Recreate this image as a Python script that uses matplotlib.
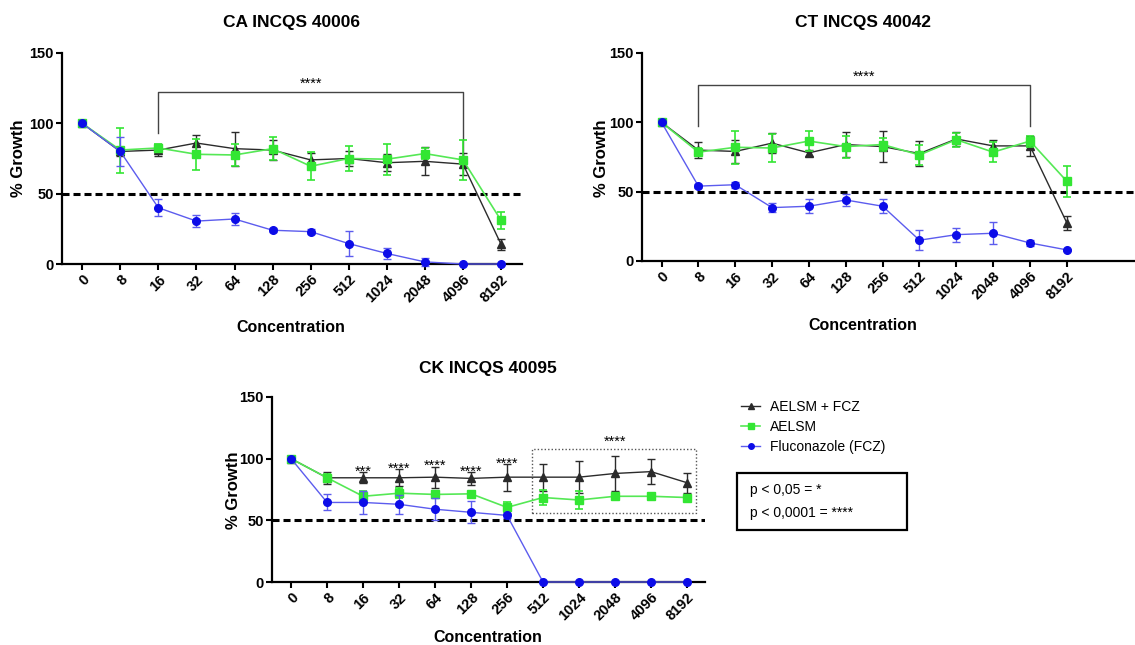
import matplotlib

matplotlib.use("Agg")
import matplotlib.pyplot as plt
from matplotlib.lines import Line2D
from matplotlib.patches import Rectangle

plt.rcParams["font.family"] = ["Liberation Sans", "DejaVu Sans"]

W, H = 1135, 645

conc = ["0", "8", "16", "32", "64", "128", "256", "512", "1024", "2048", "4096", "8192"]

# CA INCQS 40006
ca_combo = [100, 80, 81, 86, 82, 81, 74, 75, 72, 73, 71, 14]
ca_combo_err = [0, 3, 4, 5.5, 12, 7, 5, 5, 6, 10, 8, 4]
ca_aelsm = [100, 81, 82.5, 78, 77.5, 82, 69.5, 75, 74.5, 78.5, 74, 31]
ca_aelsm_err = [0, 16, 3, 11, 8, 8, 10, 9, 11, 4, 14, 6]
ca_fcz = [100, 80, 40, 30.5, 32, 24, 23, 14.5, 7.5, 1.5, 0, 0]
ca_fcz_err = [0, 10, 6, 4, 4, 1.5, 2, 9, 4, 3, 0, 0]

# CT INCQS 40042
ct_combo = [100, 80, 79, 85, 78, 84, 82.5, 77.5, 88, 83, 83, 27.5]
ct_combo_err = [0, 6, 8, 7, 2, 9, 11, 9, 5, 4.5, 7, 5]
ct_aelsm = [100, 78.5, 82, 81.5, 86.5, 82.5, 84, 76.5, 87.5, 78.5, 86.5, 57.5]
ct_aelsm_err = [0, 3, 12, 10, 7, 8, 5, 7, 5, 7, 4, 11]
ct_fcz = [100, 54, 55, 38.5, 39.5, 44, 39.5, 15, 19, 20, 13, 8]
ct_fcz_err = [0, 1.5, 2, 3.5, 5, 4, 5, 7, 5, 8, 2, 1]

# CK INCQS 40095
ck_combo = [100, 84.5, 84.5, 84.5, 85, 84, 85, 85, 85, 88, 89.5, 80.5]
ck_combo_err = [0, 5, 4.5, 7, 8.5, 5, 11, 11, 13, 14, 10, 8]
ck_aelsm = [100, 84.5, 69.5, 72, 71, 71.5, 60.5, 68.5, 66.5, 69.5, 69.5, 68.5]
ck_aelsm_err = [0, 3, 4, 4, 3, 1, 4, 6, 7, 1, 1, 1]
ck_fcz = [100, 64.5, 64.5, 63, 59, 56.5, 54, 0, 0, 0, 0, 0]
ck_fcz_err = [0, 6.5, 9, 7.5, 9, 9, 2, 0, 0, 0, 0, 0]

# significance marks
ca_bracket = (2, 10, 122, 93, 74)   # x from, x to, top, left leg end, right leg end
ct_bracket = (1, 10, 127, 97.5, 97)
ck_star_x = [2, 3, 4, 5, 6]
ck_star_y = [92.7, 95.4, 97.8, 92.7, 99.2]
ck_star_txt = ["***", "****", "****", "****", "****"]
ck_box = (6.7, 11.25, 56, 107.8)
ck_box_star = (9, 116.8)

BLACK = "#2b2b2b"
GREEN = "#33e633"
GREEN_LINE = "#55e855"
BLUE = "#0c0ce8"
BLUE_LINE = "#5c5cee"


def px_rect(left, top, right, bottom):
    return [left / W, 1 - bottom / H, (right - left) / W, (bottom - top) / H]


def fx(x):
    return x / W


def fy(y):
    return 1 - y / H


def draw_panel(ax, combo, combo_err, aelsm, aelsm_err, fcz, fcz_err, xmax):
    x = range(len(conc))
    ax.errorbar(x, combo, yerr=combo_err, color=BLACK, lw=1, marker="^", ms=5.5,
                capsize=3, elinewidth=1, capthick=1, clip_on=False, zorder=3)
    ax.errorbar(x, aelsm, yerr=aelsm_err, color=GREEN_LINE, mfc=GREEN, mec=GREEN,
                lw=1.2, marker="s", ms=5.5, capsize=3, elinewidth=1.2, capthick=1.2,
                ecolor=GREEN, clip_on=False, zorder=4)
    ax.errorbar(x, fcz, yerr=fcz_err, color=BLUE_LINE, mfc=BLUE, mec=BLUE,
                lw=1, marker="o", ms=5.5, capsize=3, elinewidth=1, capthick=1,
                ecolor=BLUE_LINE, clip_on=False, zorder=5)
    ax.axhline(50, color="black", lw=2.2, ls=(0, (2.3, 1.3)), zorder=2)
    ax.set_xlim(-0.53, xmax)
    ax.set_ylim(0, 150)
    ax.set_yticks([0, 50, 100, 150])
    ax.set_xticks(list(x))
    ax.set_xticklabels(conc, rotation=45, ha="right", rotation_mode="anchor",
                       fontsize=10.5, fontweight="bold")
    for lab in ax.get_yticklabels():
        lab.set_fontweight("bold")
        lab.set_fontsize(10.5)
    for s in ["top", "right"]:
        ax.spines[s].set_visible(False)
    for s in ["left", "bottom"]:
        ax.spines[s].set_linewidth(1.6)
    ax.tick_params(width=1.5, length=4, pad=2)


def star(ax, x, y, s):
    ax.annotate(s, (x, y), xytext=(0, -6), textcoords="offset points",
                ha="center", va="baseline", fontsize=10.5)


fig = plt.figure(figsize=(W / 100, H / 100), dpi=100)

ax1 = fig.add_axes(px_rect(62, 53, 522, 264))
draw_panel(ax1, ca_combo, ca_combo_err, ca_aelsm, ca_aelsm_err, ca_fcz, ca_fcz_err, 11.55)
ax2 = fig.add_axes(px_rect(642, 53, 1135, 261))
draw_panel(ax2, ct_combo, ct_combo_err, ct_aelsm, ct_aelsm_err, ct_fcz, ct_fcz_err, 12.85)
ax3 = fig.add_axes(px_rect(272, 397, 705, 582))
draw_panel(ax3, ck_combo, ck_combo_err, ck_aelsm, ck_aelsm_err, ck_fcz, ck_fcz_err, 11.5)

# brackets
for ax, (x0, x1, top, l_end, r_end) in [(ax1, ca_bracket), (ax2, ct_bracket)]:
    ax.plot([x0, x0, x1, x1], [l_end, top, top, r_end], color="#444444", lw=1, zorder=1)
    star(ax, (x0 + x1) / 2, top + 9, "****")

for xs, ys, t in zip(ck_star_x, ck_star_y, ck_star_txt):
    star(ax3, xs, ys, t)
bx0, bx1, by0, by1 = ck_box
ax3.add_patch(Rectangle((bx0, by0), bx1 - bx0, by1 - by0, fill=False,
                        ls=(0, (1, 1.5)), lw=1, ec="#555555", zorder=1))
star(ax3, ck_box_star[0], ck_box_star[1], "****")

# titles and labels
for t, cx, cy in [("CA INCQS 40006", 291, 22), ("CT INCQS 40042", 863, 22),
                  ("CK INCQS 40095", 488, 368)]:
    fig.text(fx(cx), fy(cy), t, ha="center", va="center", fontsize=12.5, fontweight="bold")
for cx, cy in [(291, 328), (863, 325), (488, 637)]:
    fig.text(fx(cx), fy(cy), "Concentration", ha="center", va="center",
             fontsize=11.5, fontweight="bold")
for cx, cy in [(19, 158), (602, 158), (234, 490)]:
    fig.text(fx(cx), fy(cy), "% Growth", ha="center", va="center", rotation=90,
             fontsize=12, fontweight="bold")

# legend
handles = [
    Line2D([], [], color=BLACK, lw=1, marker="^", ms=4),
    Line2D([], [], color=GREEN_LINE, lw=1.2, marker="s", ms=4, mfc=GREEN, mec=GREEN),
    Line2D([], [], color=BLUE_LINE, lw=1, marker="o", ms=4, mfc=BLUE, mec=BLUE),
]
fig.legend(handles, ["AELSM + FCZ", "AELSM", "Fluconazole (FCZ)"],
           loc="upper left", bbox_to_anchor=(fx(741), fy(400)), frameon=False,
           fontsize=10, handlelength=1.4, handletextpad=0.7, labelspacing=0.42,
           borderpad=0, borderaxespad=0)

fig.patches.append(Rectangle((fx(737), fy(530)), fx(907) - fx(737), fy(473) - fy(530),
                             transform=fig.transFigure, fill=False, lw=1.6, ec="black"))
fig.text(fx(750), fy(490), "p < 0,05 = *", ha="left", va="center", fontsize=10)
fig.text(fx(750), fy(513), "p < 0,0001 = ****", ha="left", va="center", fontsize=10)

fig.savefig("out.png", dpi=100)
